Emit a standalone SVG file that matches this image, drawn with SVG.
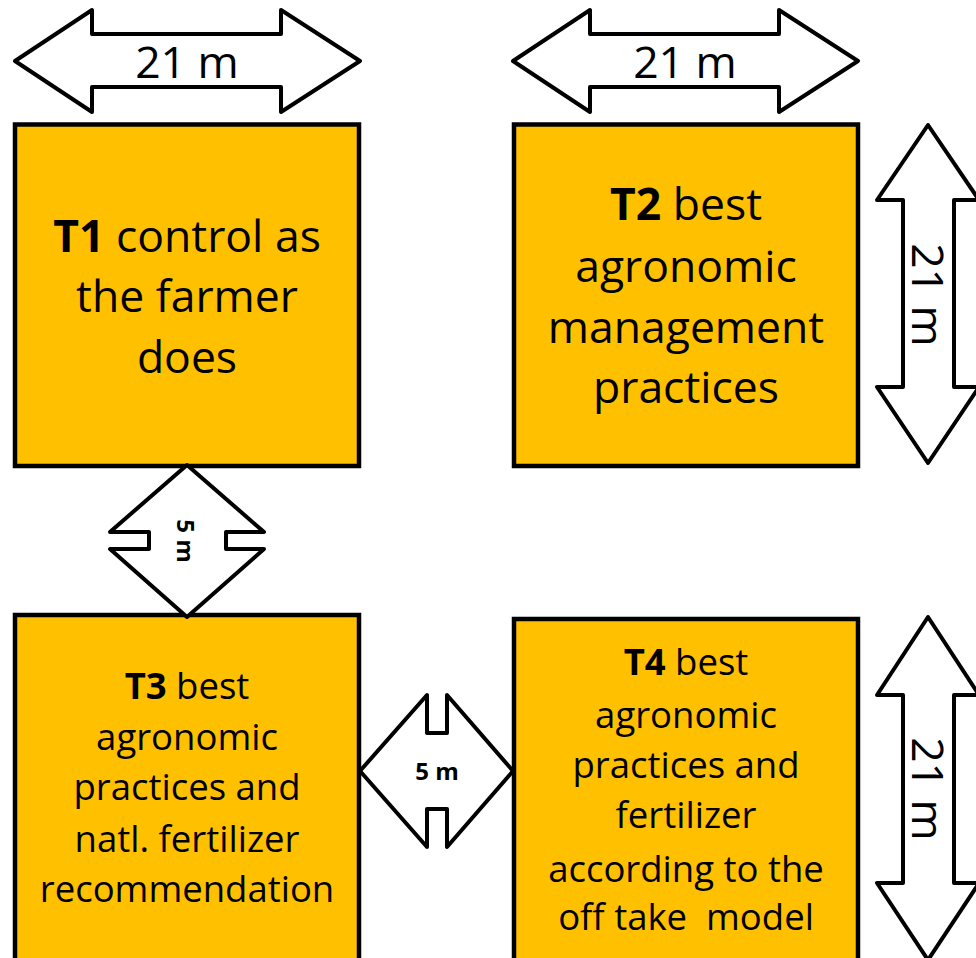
<svg xmlns="http://www.w3.org/2000/svg" width="976" height="958" viewBox="0 0 976 958">
  <style>
    .plot { fill: #FFC000; stroke: #000; stroke-width: 4.5; }
    .dim { fill: #fff; stroke: #000; stroke-width: 4; stroke-linejoin: round; }
    .t { font-family: "Open Sans", "Noto Sans", "Liberation Sans", sans-serif; fill: #000; text-anchor: middle; }
    .big { font-size: 44.5px; }
    .mid { font-size: 36.5px; }
    .b { font-weight: 700; }
    .small { font-size: 24px; font-weight: 700; }
  </style>
  <rect width="976" height="958" fill="#fff"/>

  <g id="T1">
    <rect class="plot" x="15" y="124.5" width="344" height="341.5"/>
    <text class="t big"><tspan x="187" y="252"><tspan class="b">T1</tspan> control as</tspan><tspan x="187" y="312">the farmer</tspan><tspan x="187" y="373">does</tspan></text>
  </g>
  <g id="T2">
    <rect class="plot" x="514" y="124.5" width="344" height="341.5"/>
    <text class="t big"><tspan x="686" y="220"><tspan class="b">T2</tspan> best</tspan><tspan x="686" y="282">agronomic</tspan><tspan x="686" y="343">management</tspan><tspan x="686" y="403">practices</tspan></text>
  </g>
  <g id="T3">
    <rect class="plot" x="15" y="615" width="344" height="370"/>
    <text class="t mid"><tspan x="187" y="699"><tspan class="b">T3</tspan> best</tspan><tspan x="187" y="750">agronomic</tspan><tspan x="187" y="800">practices and</tspan><tspan x="187" y="852">natl. fertilizer</tspan><tspan x="187" y="902">recommendation</tspan></text>
  </g>
  <g id="T4">
    <rect class="plot" x="514" y="619" width="344" height="370"/>
    <text class="t mid" xml:space="preserve"><tspan x="686" y="675"><tspan class="b">T4</tspan> best</tspan><tspan x="686" y="728">agronomic</tspan><tspan x="686" y="778">practices and</tspan><tspan x="686" y="828">fertilizer</tspan><tspan x="686" y="882">according to the</tspan><tspan x="686" y="930">off take  model</tspan></text>
  </g>

  <g id="connectors">
    <g id="dim-top-T1">
      <path class="dim" d="M15,61 L92,10 L92,34 L281,34 L281,10 L360,61 L281,112 L281,87 L92,87 L92,112 Z"/>
      <text class="t big" x="187" y="78">21 m</text>
    </g>
    <g id="dim-top-T2">
      <path class="dim" d="M513,61 L590,10 L590,34 L779,34 L779,10 L858,61 L779,112 L779,87 L590,87 L590,112 Z"/>
      <text class="t big" x="685" y="78">21 m</text>
    </g>
    <g id="dim-right-T2">
      <path class="dim" d="M928,125 L979,200 L954,200 L954,387 L979,387 L928,463 L877,387 L903,387 L903,200 L877,200 Z"/>
      <text class="t big" transform="translate(912,295) rotate(90)" x="0" y="0">21 m</text>
    </g>
    <g id="dim-right-T4">
      <path class="dim" d="M928,617 L979,695 L954,695 L954,883 L979,883 L928,960 L877,883 L903,883 L903,695 L877,695 Z"/>
      <text class="t big" transform="translate(912,789) rotate(90)" x="0" y="0">21 m</text>
    </g>
    <g id="gap-T1-T3">
      <path class="dim" d="M187,465 L264,532 L226,532 L226,549 L264,549 L187,617 L110,549 L149,549 L149,532 L110,532 Z"/>
      <text class="t small" transform="translate(177,541) rotate(90)" x="0" y="0">5 m</text>
    </g>
    <g id="gap-T3-T4">
      <path class="dim" d="M360,771 L427,695 L427,733 L447,733 L447,695 L513,771 L447,847 L447,809 L427,809 L427,847 Z"/>
      <text class="t small" x="437" y="780">5 m</text>
    </g>
  </g>
</svg>
